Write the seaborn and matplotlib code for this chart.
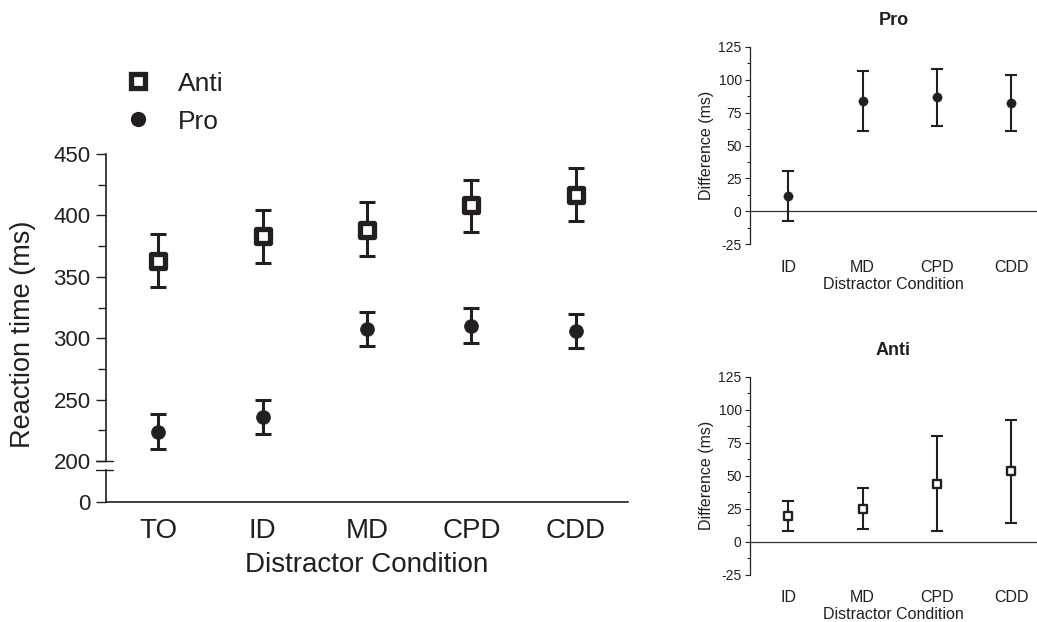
import numpy as np
import pandas as pd
import matplotlib
matplotlib.use("Agg")
import matplotlib.pyplot as plt
from matplotlib.lines import Line2D
from matplotlib.ticker import MultipleLocator
import seaborn as sns

# ---------------- data ----------------
conditions = ["TO", "ID", "MD", "CPD", "CDD"]
anti_rt = [362.8, 383.1, 388.3, 408.1, 416.8]
anti_lo = [341.6, 361.5, 367.2, 386.2, 395.1]
anti_hi = [384.5, 404.6, 410.6, 429.1, 438.3]
pro_rt = [223.5, 235.8, 307.4, 310.2, 306.1]
pro_lo = [210.0, 221.7, 293.6, 296.3, 292.3]
pro_hi = [237.9, 249.9, 321.3, 324.3, 320.0]

diff_conditions = ["ID", "MD", "CPD", "CDD"]
pro_diff = [11.4, 83.7, 86.5, 82.4]
pro_diff_lo = [-7.4, 61.1, 64.7, 61.1]
pro_diff_hi = [30.4, 106.5, 107.8, 103.2]
anti_diff = [19.7, 25.2, 44.1, 53.4]
anti_diff_lo = [8.3, 9.6, 8.3, 14.4]
anti_diff_hi = [31.0, 41.1, 80.2, 92.5]

main_yticks = [200, 250, 300, 350, 400, 450]
diff_yticks = [-25, 0, 25, 50, 75, 100, 125]

C = "#231f20"

sns.set_style("ticks")
plt.rcParams["font.family"] = ["Liberation Sans", "DejaVu Sans"]
plt.rcParams["axes.unicode_minus"] = False
plt.rcParams["text.color"] = C
plt.rcParams["axes.labelcolor"] = C
plt.rcParams["xtick.color"] = C
plt.rcParams["ytick.color"] = C
plt.rcParams["axes.edgecolor"] = C

fig = plt.figure(figsize=(10.37, 6.22), dpi=100)


def draw_series(ax, cats, vals, lo, hi, marker, ms, mew, lw, cap, filled):
    df = pd.DataFrame({"cond": cats, "val": vals})
    yerr = [np.subtract(vals, lo), np.subtract(hi, vals)]
    ax.errorbar(cats, vals, yerr=yerr, fmt="none", ecolor=C, elinewidth=lw,
                capsize=cap, capthick=lw, zorder=2)
    sns.scatterplot(data=df, x="cond", y="val", marker=marker, s=ms ** 2,
                    color=(C if filled else "white"), edgecolor=C,
                    linewidth=mew, ax=ax, zorder=3, legend=False)


# ---------------- main chart (broken y axis) ----------------
ax_top = fig.add_axes([0.1022, 0.2588, 0.5034, 0.4936])
ax_bot = fig.add_axes([0.1022, 0.1934, 0.5034, 0.0510])

draw_series(ax_top, conditions, anti_rt, anti_lo, anti_hi, "s", 9.9, 3.8, 2.2, 6.0, False)
draw_series(ax_top, conditions, pro_rt, pro_lo, pro_hi, "o", 10.0, 0.5, 2.2, 6.0, True)

ax_top.set_xlim(-0.5, 4.5)
ax_top.set_ylim(200, 450)
ax_top.set_yticks(main_yticks)
ax_top.yaxis.set_minor_locator(MultipleLocator(25))
ax_top.tick_params(axis="y", which="major", length=7.5, width=1.0, labelsize=16, pad=3.5)
ax_top.tick_params(axis="y", which="minor", length=5.5, width=1.0)
ax_top.tick_params(axis="x", bottom=False, labelbottom=False)
for s in ["top", "right", "bottom"]:
    ax_top.spines[s].set_visible(False)
ax_top.spines["left"].set_linewidth(1.2)
ax_top.set_xlabel("")
ax_top.set_ylabel("")

ax_bot.set_xlim(-0.5, 4.5)
ax_bot.set_ylim(0, 10)
ax_bot.set_yticks([0])
ax_bot.set_xticks(range(len(conditions)))
ax_bot.set_xticklabels(conditions)
ax_bot.tick_params(axis="y", length=7.5, width=1.0, labelsize=16, pad=3.5)
ax_bot.tick_params(axis="x", length=0, labelsize=20, pad=11.5)
for s in ["top", "right"]:
    ax_bot.spines[s].set_visible(False)
ax_bot.spines["left"].set_linewidth(1.2)
ax_bot.spines["bottom"].set_linewidth(1.2)
ax_bot.set_xlabel("Distractor Condition", fontsize=20, labelpad=6)

# break marks
ax_top.plot([-0.019, 0.014], [0, 0], transform=ax_top.transAxes, color=C,
            lw=1.0, clip_on=False)
ax_bot.plot([-0.019, 0.014], [1, 1], transform=ax_bot.transAxes, color=C,
            lw=1.0, clip_on=False)

fig.text(23.5 / 1037, 1 - 334 / 622, "Reaction time (ms)", rotation=90,
         ha="center", va="center", fontsize=19.5)

handles = [
    Line2D([], [], ls="none", marker="s", ms=10.4, mfc="white", mec=C, mew=3.8),
    Line2D([], [], ls="none", marker="o", ms=10.0, mfc=C, mec=C),
]
fig.legend(handles, ["Anti", "Pro"], loc="upper left",
           bbox_to_anchor=(0.1206, 0.885), frameon=False, fontsize=19,
           handlelength=1.0, handletextpad=1.0, labelspacing=0.53,
           borderpad=0, borderaxespad=0)


# ---------------- difference panels ----------------
def diff_panel(rect, title, vals, lo, hi, marker, ms, mew, filled):
    ax = fig.add_axes(rect)
    ax.axhline(0, color="#333333", lw=0.9, zorder=1)
    draw_series(ax, diff_conditions, vals, lo, hi, marker, ms, mew, 1.5, 4.4, filled)
    ax.set_xlim(-0.516, 3.35)
    ax.set_ylim(-25, 125)
    ax.set_yticks(diff_yticks)
    ax.yaxis.set_minor_locator(MultipleLocator(12.5))
    ax.tick_params(axis="y", which="major", length=3.6, width=0.8, labelsize=10, pad=2.4)
    ax.tick_params(axis="y", which="minor", length=2.4, width=0.8)
    ax.tick_params(axis="x", length=0, labelsize=11.5, pad=11)
    for s in ["top", "right", "bottom"]:
        ax.spines[s].set_visible(False)
    ax.spines["left"].set_linewidth(0.9)
    ax.set_xlabel("Distractor Condition", fontsize=11.5, labelpad=1.5)
    ax.set_ylabel("Difference (ms)", fontsize=11.5, labelpad=3)
    ax.set_title(title, fontsize=13, fontweight="bold", pad=15.6)
    return ax


diff_panel([0.7232, 0.6072, 0.2768, 0.3177], "Pro", pro_diff, pro_diff_lo,
           pro_diff_hi, "o", 6.7, 0.3, True)
diff_panel([0.7232, 0.0756, 0.2768, 0.3188], "Anti", anti_diff, anti_diff_lo,
           anti_diff_hi, "s", 5.6, 1.7, False)

fig.savefig("out.png", dpi=100)
